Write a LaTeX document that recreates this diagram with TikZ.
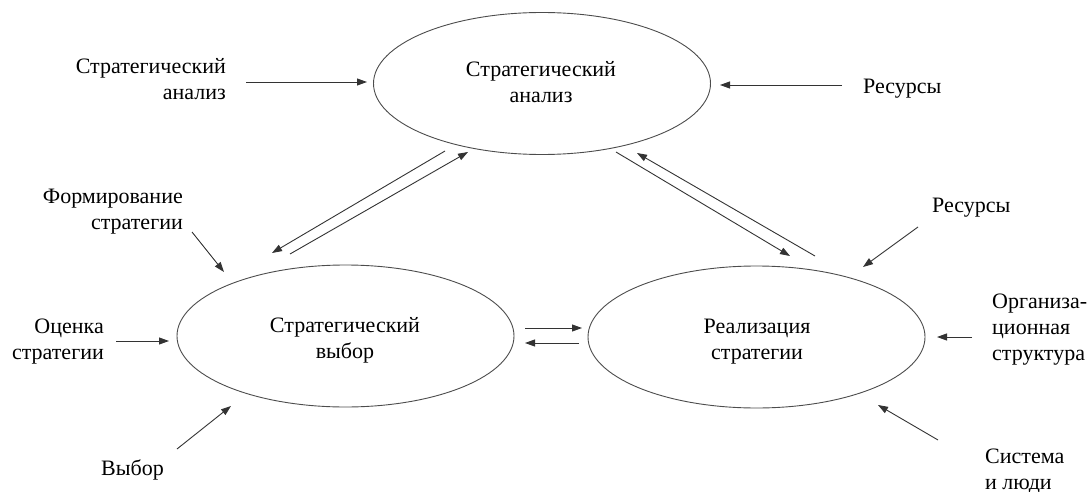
\documentclass[tikz,border=0pt]{standalone}
\usepackage{fontspec}
\setmainfont{Liberation Serif}
\usetikzlibrary{arrows.meta,shapes.geometric}
\begin{document}
\begin{tikzpicture}[x=1pt,y=-1pt,
  oval/.style={draw=black!70, line width=0.9pt, ellipse, minimum width=337pt, minimum height=142pt, inner sep=0pt},
  lbl/.style={font=\fontsize{22}{26}\selectfont, inner sep=0pt},
  arr/.style={draw=black!80, line width=0.9pt, -{Triangle[length=10pt,width=7pt]}}]
\useasboundingbox (0,0) rectangle (1089,492);
% ellipses
\node[oval] (sa) at (542,83.5) {};
\node[oval] (sv) at (345.5,336) {};
\node[oval] (rs) at (756.5,337) {};
\node[lbl, anchor=base, align=center] (sat) at (541,103) {Стратегический\\анализ};
\node[lbl, anchor=base, align=center] (svt) at (345,358) {Стратегический\\выбор};
\node[lbl, anchor=base, align=center] (rst) at (757,359) {Реализация\\стратегии};
% labels (base anchor = last line)
\node[lbl, anchor=base east, align=right] (l1) at (226,100) {Стратегический\\анализ};
\node[lbl, anchor=base west] (l2) at (863,94) {Ресурсы};
\node[lbl, anchor=base east, align=right] (l3) at (183,229) {Формирование\\стратегии};
\node[lbl, anchor=base east, align=right] (l4) at (104,359) {Оценка\\стратегии};
\node[lbl, anchor=base west] (l5) at (101,475) {Выбор};
\node[lbl, anchor=base west] (l6) at (932,212) {Ресурсы};
\node[lbl, anchor=base west, align=left] (l7) at (992,360) {Организа-\\ционная\\структура};
\node[lbl, anchor=base west, align=left] (l8) at (985,489) {Система\\и люди};
% arrow endpoints
\coordinate (a1s) at (246,82);  \coordinate (a1e) at (367,82);
\coordinate (a2s) at (842,85);  \coordinate (a2e) at (720,85);
\coordinate (aAs) at (445,151); \coordinate (aAe) at (272,253);
\coordinate (aBs) at (290,254); \coordinate (aBe) at (468,152);
\coordinate (aCs) at (815,256); \coordinate (aCe) at (637,153);
\coordinate (aDs) at (616,152); \coordinate (aDe) at (790,256);
\coordinate (aEs) at (525,328); \coordinate (aEe) at (582,328);
\coordinate (aFs) at (579,343); \coordinate (aFe) at (525,343);
\coordinate (a3s) at (192,232); \coordinate (a3e) at (224,272);
\coordinate (a4s) at (116,341); \coordinate (a4e) at (169,341);
\coordinate (a5s) at (177,449); \coordinate (a5e) at (231,406);
\coordinate (a6s) at (918,227); \coordinate (a6e) at (863,267);
\coordinate (a7s) at (972,337); \coordinate (a7e) at (937,337);
\coordinate (a8s) at (938,440); \coordinate (a8e) at (878,405);
% arrows
\foreach \n in {1,2,A,B,C,D,E,F,3,4,5,6,7,8}
  \draw[arr] (a\n s) -- (a\n e);
\end{tikzpicture}
\end{document}
